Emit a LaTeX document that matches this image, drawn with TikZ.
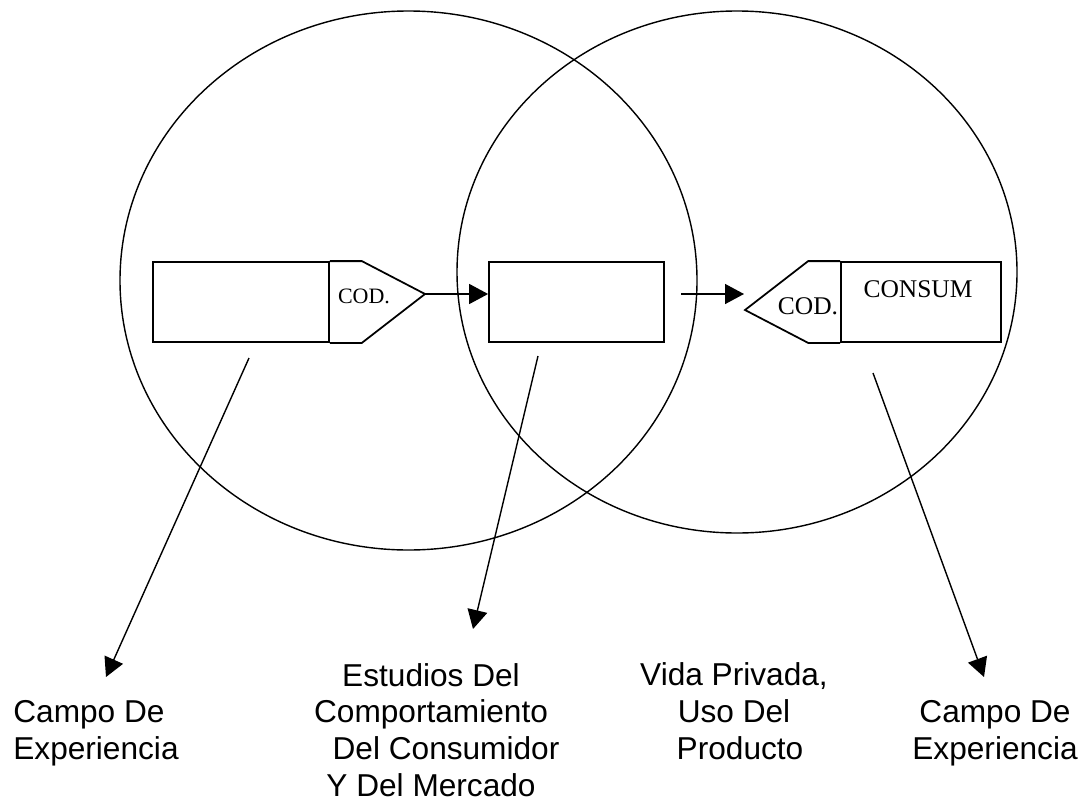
\documentclass[tikz,border=0pt]{standalone}
\usepackage{fontspec}
\setmainfont{Liberation Serif}
\newfontfamily\arialfont{Liberation Sans}
\usepackage{tikz}
\usetikzlibrary{shapes.geometric, arrows.meta, positioning, calc}
\tikzstyle{field} = [ellipse, draw=black, line width=0.8pt, inner sep=0pt]
\tikzstyle{box} = [rectangle, draw=black, line width=1pt, minimum height=1.6cm, inner sep=0pt]
\tikzstyle{codline} = [draw=black, line width=1pt, line join=miter]
\tikzstyle{arrow} = [line width=0.8pt, -{Triangle[length=0.38cm, width=0.4cm]}]
\tikzstyle{note} = [font=\arialfont\fontsize{18}{20.8}\selectfont, inner sep=0pt, anchor=base]
\tikzstyle{code} = [font=\fontsize{12.5}{14}\selectfont, inner sep=0pt]

\begin{document}
\begin{tikzpicture}
\useasboundingbox (0,0) rectangle (21.72,-16.08);

\node (left) [field, minimum width=11.54cm, minimum height=10.78cm] at (8.17,-5.61) {};
\node (right) [field, minimum width=11.2cm, minimum height=10.44cm] at (14.74,-5.44) {};

\node (emisor) [box, minimum width=3.52cm] at (4.82,-6.04) {};
\node (mensaje) [box, minimum width=3.5cm] at (11.53,-6.04) {};
\node (consum) [box, minimum width=3.2cm] at (18.42,-6.04) {};

\coordinate (codtipL) at (8.5,-5.88);
\coordinate (codtipR) at (14.9,-6.2);
\draw [codline] (emisor.north east) -- ++(0.64,0) -- (codtipL) -- ($(emisor.south east)+(0.64,0)$) -- (emisor.south east);
\draw [codline] (consum.north west) -- ++(-0.64,0) -- (codtipR) -- ($(consum.south west)+(-0.64,0)$) -- (consum.south west);

\node (codL) [code] at (7.28,-5.93) {COD.};
\node (codR) [code, font=\fontsize{14.5}{16}\selectfont] at (16.16,-6.13) {COD.};
\node (consumtext) [code, font=\fontsize{14.5}{16}\selectfont] at (18.36,-5.78) {CONSUM};

\coordinate (a2from) at (13.62,-5.88);
\coordinate (a2to) at (14.88,-5.88);
\draw [arrow] (codtipL) -- (codtipL -| mensaje.west);
\draw [arrow] (a2from) -- (a2to);

\coordinate (p1) at (4.98,-7.16);
\coordinate (q1) at (2.12,-13.54);
\coordinate (p2) at (10.76,-7.12);
\coordinate (q2) at (9.46,-12.58);
\coordinate (p3) at (17.46,-7.46);
\coordinate (q3) at (19.68,-13.54);
\draw [arrow] (p1) -- (q1);
\draw [arrow] (p2) -- (q2);
\draw [arrow] (p3) -- (q3);

\node (campoL) [note, anchor=base west, align=left] at (0.26,-15.18) {Campo De\\Experiencia};
\node (estudios) [note, align=center] at (8.62,-15.92) {Estudios Del\\Comportamiento\\\hspace*{0.6cm}Del Consumidor\\Y Del Mercado};
\node (vida) [note, align=center] at (14.68,-15.18) {Vida Privada,\\Uso Del\\\hspace*{0.24cm}Producto};
\node (campoR) [note, align=center] at (19.9,-15.18) {Campo De\\Experiencia};

\end{tikzpicture}
\end{document}
